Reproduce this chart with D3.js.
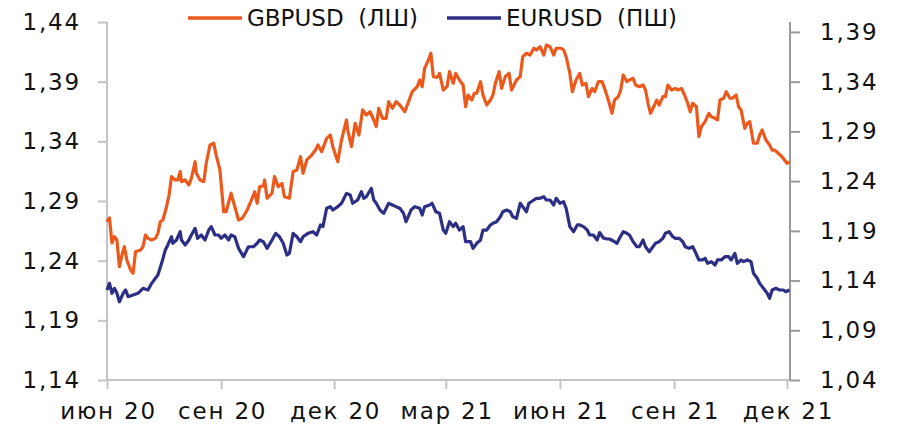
<!DOCTYPE html>
<html><head><meta charset="utf-8">
<script src="https://cdn.jsdelivr.net/npm/d3@7"></script>
<style>
html,body{margin:0;padding:0;background:#fff;}
svg text{font-family:"DejaVu Sans",Verdana,sans-serif;fill:#111;}
</style></head>
<body><svg id="c" width="898" height="430"></svg>
<script>
const seriesNames = ["GBPUSD  (ЛШ)", "EURUSD  (ПШ)"];
const xTickDates = ["2020-06-01","2020-09-01","2020-12-01","2021-03-01","2021-06-01","2021-09-01","2021-12-01"];
const xTickLabels = ["июн 20","сен 20","дек 20","мар 21","июн 21","сен 21","дек 21"];
const leftTicks = [1.14,1.19,1.24,1.29,1.34,1.39,1.44];
const rightTicks = [1.04,1.09,1.14,1.19,1.24,1.29,1.34,1.39];

const gbpDates = ["2020-06-01","2020-06-03","2020-06-05","2020-06-07","2020-06-09","2020-06-11","2020-06-13","2020-06-15","2020-06-17","2020-06-20","2020-06-22","2020-06-24","2020-06-28","2020-06-30","2020-07-02","2020-07-04","2020-07-07","2020-07-10","2020-07-12","2020-07-14","2020-07-16","2020-07-19","2020-07-21","2020-07-23","2020-07-26","2020-07-28","2020-07-30","2020-07-31","2020-08-03","2020-08-06","2020-08-08","2020-08-11","2020-08-12","2020-08-15","2020-08-18","2020-08-20","2020-08-23","2020-08-26","2020-08-28","2020-08-31","2020-09-03","2020-09-05","2020-09-09","2020-09-12","2020-09-15","2020-09-18","2020-09-22","2020-09-26","2020-09-28","2020-09-30","2020-10-02","2020-10-05","2020-10-06","2020-10-08","2020-10-12","2020-10-14","2020-10-17","2020-10-20","2020-10-22","2020-10-26","2020-10-29","2020-11-01","2020-11-04","2020-11-06","2020-11-09","2020-11-13","2020-11-16","2020-11-18","2020-11-21","2020-11-25","2020-11-28","2020-11-30","2020-12-04","2020-12-07","2020-12-11","2020-12-12","2020-12-15","2020-12-18","2020-12-21","2020-12-24","2020-12-27","2020-12-30","2021-01-02","2021-01-04","2021-01-06","2021-01-09","2021-01-12","2021-01-14","2021-01-17","2021-01-20","2021-01-23","2021-01-27","2021-01-30","2021-02-02","2021-02-06","2021-02-08","2021-02-10","2021-02-12","2021-02-15","2021-02-17","2021-02-19","2021-02-22","2021-02-24","2021-02-27","2021-03-02","2021-03-04","2021-03-07","2021-03-09","2021-03-12","2021-03-15","2021-03-17","2021-03-19","2021-03-22","2021-03-24","2021-03-26","2021-03-29","2021-03-31","2021-04-03","2021-04-06","2021-04-08","2021-04-10","2021-04-13","2021-04-15","2021-04-18","2021-04-21","2021-04-23","2021-04-27","2021-04-30","2021-05-02","2021-05-05","2021-05-08","2021-05-11","2021-05-13","2021-05-16","2021-05-19","2021-05-21","2021-05-24","2021-05-27","2021-05-29","2021-06-02","2021-06-04","2021-06-06","2021-06-09","2021-06-11","2021-06-14","2021-06-17","2021-06-19","2021-06-22","2021-06-24","2021-06-27","2021-06-29","2021-07-02","2021-07-05","2021-07-07","2021-07-10","2021-07-13","2021-07-15","2021-07-18","2021-07-20","2021-07-22","2021-07-25","2021-07-27","2021-07-30","2021-08-01","2021-08-04","2021-08-07","2021-08-09","2021-08-11","2021-08-13","2021-08-15","2021-08-18","2021-08-20","2021-08-23","2021-08-25","2021-08-27","2021-08-30","2021-09-02","2021-09-04","2021-09-07","2021-09-10","2021-09-12","2021-09-14","2021-09-16","2021-09-19","2021-09-21","2021-09-23","2021-09-26","2021-09-29","2021-10-01","2021-10-04","2021-10-06","2021-10-08","2021-10-11","2021-10-13","2021-10-16","2021-10-18","2021-10-21","2021-10-23","2021-10-25","2021-10-28","2021-10-30","2021-11-01","2021-11-04","2021-11-07","2021-11-09","2021-11-11","2021-11-14","2021-11-17","2021-11-19","2021-11-21","2021-11-24","2021-11-27","2021-11-29","2021-12-01","2021-12-03"];
const gbpValues = [1.2727,1.2758,1.2548,1.2601,1.2573,1.2349,1.2447,1.2517,1.2406,1.2322,1.2294,1.2475,1.2489,1.2517,1.2615,1.2587,1.2573,1.2587,1.2629,1.2727,1.2741,1.2852,1.2950,1.3104,1.3076,1.3076,1.3146,1.3062,1.3076,1.3034,1.3090,1.3229,1.3132,1.3076,1.3062,1.3216,1.3369,1.3384,1.3285,1.3160,1.2810,1.2810,1.2965,1.2852,1.2741,1.2755,1.2825,1.2923,1.2978,1.2881,1.3020,1.3026,1.3076,1.2923,1.2965,1.3104,1.3020,1.3048,1.2936,1.2923,1.3146,1.3160,1.3271,1.3132,1.3244,1.3285,1.3327,1.3369,1.3313,1.3425,1.3453,1.3355,1.3229,1.3411,1.3579,1.3495,1.3355,1.3551,1.3453,1.3663,1.3621,1.3648,1.3579,1.3523,1.3677,1.3593,1.3593,1.3732,1.3677,1.3732,1.3704,1.3648,1.3732,1.3816,1.3858,1.3914,1.3858,1.4012,1.4082,1.4138,1.3942,1.3935,1.3970,1.3830,1.3858,1.3984,1.3886,1.3970,1.3914,1.3872,1.3690,1.3788,1.3746,1.3803,1.3803,1.3900,1.3788,1.3704,1.3746,1.3788,1.3886,1.3984,1.3844,1.3942,1.3970,1.3830,1.3914,1.3942,1.4109,1.4138,1.4123,1.4180,1.4165,1.4193,1.4123,1.4207,1.4193,1.4123,1.4180,1.4180,1.4165,1.4109,1.3970,1.3816,1.3914,1.3970,1.3872,1.3886,1.3774,1.3844,1.3816,1.3900,1.3900,1.3844,1.3746,1.3635,1.3746,1.3774,1.3830,1.3956,1.3900,1.3914,1.3928,1.3872,1.3858,1.3872,1.3830,1.3719,1.3635,1.3677,1.3746,1.3704,1.3774,1.3774,1.3872,1.3830,1.3844,1.3830,1.3844,1.3774,1.3719,1.3648,1.3719,1.3690,1.3439,1.3523,1.3565,1.3635,1.3606,1.3593,1.3579,1.3746,1.3761,1.3816,1.3761,1.3761,1.3788,1.3690,1.3663,1.3509,1.3551,1.3565,1.3384,1.3384,1.3453,1.3495,1.3411,1.3369,1.3327,1.3327,1.3300,1.3271,1.3244,1.3216,1.3229];

const eurDates = ["2020-06-01","2020-06-03","2020-06-05","2020-06-07","2020-06-09","2020-06-11","2020-06-14","2020-06-16","2020-06-18","2020-06-22","2020-06-26","2020-06-30","2020-07-04","2020-07-07","2020-07-10","2020-07-12","2020-07-15","2020-07-18","2020-07-20","2020-07-23","2020-07-24","2020-07-27","2020-07-30","2020-07-31","2020-08-03","2020-08-06","2020-08-08","2020-08-11","2020-08-13","2020-08-16","2020-08-19","2020-08-22","2020-08-24","2020-08-27","2020-08-30","2020-09-01","2020-09-04","2020-09-07","2020-09-09","2020-09-12","2020-09-15","2020-09-19","2020-09-23","2020-09-27","2020-09-30","2020-10-02","2020-10-05","2020-10-08","2020-10-12","2020-10-15","2020-10-18","2020-10-21","2020-10-24","2020-10-26","2020-10-29","2020-11-01","2020-11-04","2020-11-06","2020-11-10","2020-11-14","2020-11-17","2020-11-20","2020-11-22","2020-11-25","2020-11-28","2020-11-30","2020-12-04","2020-12-07","2020-12-11","2020-12-14","2020-12-16","2020-12-20","2020-12-23","2020-12-25","2020-12-27","2020-12-31","2021-01-02","2021-01-04","2021-01-07","2021-01-10","2021-01-14","2021-01-17","2021-01-20","2021-01-23","2021-01-26","2021-01-28","2021-02-01","2021-02-04","2021-02-08","2021-02-10","2021-02-12","2021-02-16","2021-02-18","2021-02-21","2021-02-24","2021-02-27","2021-03-01","2021-03-04","2021-03-07","2021-03-09","2021-03-12","2021-03-15","2021-03-17","2021-03-21","2021-03-23","2021-03-26","2021-03-29","2021-03-31","2021-04-03","2021-04-06","2021-04-08","2021-04-11","2021-04-14","2021-04-16","2021-04-19","2021-04-22","2021-04-24","2021-04-27","2021-04-30","2021-05-02","2021-05-05","2021-05-07","2021-05-11","2021-05-13","2021-05-16","2021-05-19","2021-05-21","2021-05-24","2021-05-27","2021-05-29","2021-06-01","2021-06-04","2021-06-06","2021-06-09","2021-06-12","2021-06-15","2021-06-17","2021-06-20","2021-06-23","2021-06-25","2021-06-28","2021-07-01","2021-07-03","2021-07-06","2021-07-09","2021-07-11","2021-07-14","2021-07-17","2021-07-19","2021-07-22","2021-07-25","2021-07-27","2021-07-30","2021-08-02","2021-08-04","2021-08-07","2021-08-09","2021-08-12","2021-08-15","2021-08-17","2021-08-20","2021-08-23","2021-08-25","2021-08-28","2021-08-31","2021-09-02","2021-09-05","2021-09-08","2021-09-10","2021-09-13","2021-09-16","2021-09-18","2021-09-21","2021-09-24","2021-09-26","2021-09-28","2021-10-01","2021-10-04","2021-10-06","2021-10-09","2021-10-12","2021-10-15","2021-10-17","2021-10-20","2021-10-22","2021-10-25","2021-10-27","2021-10-30","2021-11-02","2021-11-04","2021-11-07","2021-11-09","2021-11-12","2021-11-15","2021-11-17","2021-11-19","2021-11-22","2021-11-25","2021-11-28","2021-11-30","2021-12-03"];
const eurValues = [1.1305,1.1372,1.1272,1.1322,1.1272,1.1187,1.1272,1.1305,1.1238,1.1255,1.1272,1.1322,1.1305,1.1372,1.1423,1.1456,1.1573,1.1707,1.1758,1.1841,1.1775,1.1808,1.1891,1.1808,1.1758,1.1808,1.1858,1.1925,1.1825,1.1858,1.1808,1.1908,1.1942,1.1858,1.1858,1.1825,1.1858,1.1808,1.1858,1.1841,1.1724,1.1640,1.1740,1.1740,1.1775,1.1808,1.1791,1.1724,1.1808,1.1875,1.1841,1.1775,1.1657,1.1674,1.1875,1.1841,1.1791,1.1841,1.1875,1.1891,1.1858,1.1959,1.1942,1.2127,1.2143,1.2109,1.2143,1.2177,1.2277,1.2260,1.2177,1.2210,1.2293,1.2227,1.2243,1.2328,1.2210,1.2177,1.2109,1.2076,1.2177,1.2160,1.2143,1.2127,1.2076,1.1992,1.2109,1.2143,1.2127,1.2059,1.2143,1.2160,1.2177,1.2092,1.2076,1.1908,1.1875,1.1992,1.1942,1.1976,1.1908,1.1942,1.1791,1.1791,1.1724,1.1775,1.1808,1.1908,1.1908,1.1959,1.1976,1.1992,1.2042,1.2092,1.2109,1.2092,1.2042,1.2026,1.2177,1.2143,1.2092,1.2177,1.2210,1.2227,1.2227,1.2243,1.2210,1.2210,1.2160,1.2227,1.2177,1.2193,1.2127,1.1942,1.1891,1.1959,1.1959,1.1942,1.1908,1.1858,1.1858,1.1808,1.1883,1.1828,1.1818,1.1818,1.1798,1.1775,1.1825,1.1891,1.1875,1.1858,1.1791,1.1740,1.1740,1.1808,1.1740,1.1690,1.1740,1.1775,1.1791,1.1825,1.1875,1.1891,1.1841,1.1825,1.1825,1.1791,1.1740,1.1724,1.1740,1.1690,1.1607,1.1607,1.1624,1.1573,1.1590,1.1556,1.1607,1.1607,1.1640,1.1640,1.1607,1.1674,1.1573,1.1607,1.1590,1.1607,1.1590,1.1473,1.1423,1.1372,1.1322,1.1272,1.1222,1.1305,1.1322,1.1305,1.1305,1.1288,1.1305];

const colors = ["#EB5A1C", "#2C2F84"];
const parse = d3.timeParse("%Y-%m-%d");
const fmt = v => d3.format(".2f")(v).replace(".", ",");

const svg = d3.select("#c");
const x = d3.scaleTime().domain([parse("2020-06-01"), parse("2021-12-01")]).range([107, 787]);
const yL = d3.scaleLinear().domain([1.14, 1.44]).range([380, 22]);
const yR = d3.scaleLinear().domain([1.04, 1.40]).range([380, 22]);

function styleText(sel) {
  sel.attr("font-size", 23).attr("font-family", "DejaVu Sans").attr("fill", "#111")
     .style("letter-spacing", "1.8px");
}

// bottom axis
const xAxis = d3.axisBottom(x).tickValues(xTickDates.map(parse)).tickSize(9).tickPadding(14)
  .tickFormat((d, i) => xTickLabels[i]);
const gx = svg.append("g").attr("transform", "translate(0,380)").call(xAxis);
gx.select(".domain").attr("d", "M107,0H790").attr("stroke", "#c4c4c4").attr("stroke-width", 2);
gx.selectAll(".tick line").attr("stroke", "#c4c4c4").attr("stroke-width", 2);
gx.selectAll(".tick text").call(styleText).attr("dx", "1");

// left axis
const gl = svg.append("g").attr("transform", "translate(107,0)")
  .call(d3.axisLeft(yL).tickValues(leftTicks).tickSize(9).tickPadding(17).tickFormat(fmt));
gl.select(".domain").attr("d", "M0,22V380").attr("stroke", "#c4c4c4").attr("stroke-width", 2);
gl.selectAll(".tick line").attr("stroke", "#c4c4c4").attr("stroke-width", 2);
gl.selectAll(".tick text").call(styleText);

// right axis
const gr = svg.append("g").attr("transform", "translate(790,0)")
  .call(d3.axisRight(yR).tickValues(rightTicks).tickSize(10).tickPadding(20).tickFormat(fmt));
gr.select(".domain").attr("d", "M0,22V380").attr("stroke", "#9a9a9a").attr("stroke-width", 2);
gr.selectAll(".tick line").attr("stroke", "#9a9a9a").attr("stroke-width", 2);
gr.selectAll(".tick text").call(styleText);

// lines
const gbp = gbpDates.map((d, i) => ({date: parse(d), v: gbpValues[i]}));
const eur = eurDates.map((d, i) => ({date: parse(d), v: eurValues[i]}));
const lineL = d3.line().x(d => x(d.date)).y(d => yL(d.v));
const lineR = d3.line().x(d => x(d.date)).y(d => yR(d.v));
svg.append("path").datum(eur).attr("d", lineR).attr("fill", "none")
  .attr("stroke", colors[1]).attr("stroke-width", 3.2).attr("stroke-linejoin", "round");
svg.append("path").datum(gbp).attr("d", lineL).attr("fill", "none")
  .attr("stroke", colors[0]).attr("stroke-width", 3.2).attr("stroke-linejoin", "round");

// legend
const legend = [{x: 188, name: seriesNames[0], c: colors[0]}, {x: 447, name: seriesNames[1], c: colors[1]}];
const lg = svg.append("g").selectAll("g").data(legend).enter().append("g");
lg.append("line").attr("x1", d => d.x).attr("x2", d => d.x + 54).attr("y1", 18).attr("y2", 18)
  .attr("stroke", d => d.c).attr("stroke-width", 3.5);
lg.append("text").attr("x", d => d.x + 59).attr("y", 26).attr("font-size", 23)
  .attr("font-family", "DejaVu Sans").style("white-space", "pre")
  .attr("fill", "#111").text(d => d.name);
</script></body></html>
